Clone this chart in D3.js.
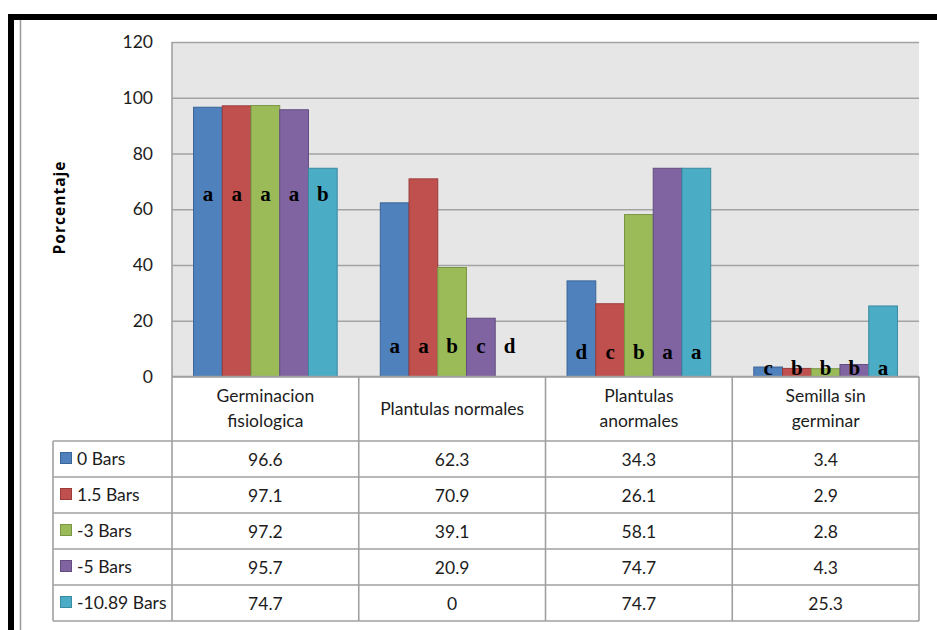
<!DOCTYPE html>
<html>
<head>
<meta charset="utf-8">
<script src="https://cdn.jsdelivr.net/npm/d3@7/dist/d3.min.js"></script>
<style>
  html, body { margin: 0; padding: 0; background: #fff; }
  svg { display: block; }
</style>
</head>
<body>
<svg id="chart" width="937" height="630"></svg>
<script>
// Categories shown along the x axis (two-line labels in the data table)
const categories = ["Germinacion fisiologica", "Plantulas normales", "Plantulas anormales", "Semilla sin germinar"];
const categoryLines = [["Germinacion", "fisiologica"], ["Plantulas normales"], ["Plantulas", "anormales"], ["Semilla sin", "germinar"]];

// Treatments (series)
const series = ["0 Bars", "1.5 Bars", "-3 Bars", "-5 Bars", "-10.89 Bars"];

// Percent values per treatment, one per category
const bars0 = [96.6, 62.3, 34.3, 3.4];
const bars15 = [97.1, 70.9, 26.1, 2.9];
const barsM3 = [97.2, 39.1, 58.1, 2.8];
const barsM5 = [95.7, 20.9, 74.7, 4.3];
const barsM1089 = [74.7, 0, 74.7, 25.3];
const values = [bars0, bars15, barsM3, barsM5, barsM1089];

// Significance letters (per category, per treatment)
const letters = [
  ["a", "a", "a", "a", "b"],
  ["a", "a", "b", "c", "d"],
  ["d", "c", "b", "a", "a"],
  ["c", "b", "b", "b", "a"]
];

// Y axis ticks
const yTicks = [0, 20, 40, 60, 80, 100, 120];

const colors = ["#4F81BD", "#C0504D", "#9BBB59", "#8064A2", "#4BACC6"];
const strokes = ["#3A6597", "#993C3A", "#7A9645", "#634D80", "#3A8AA0"];

const svg = d3.select("#chart");
const sansFont = "Lato, 'Open Sans', sans-serif";
const textColor = "#1c1c1c";

// Plot geometry
const plotLeft = 172, plotRight = 919, plotTop = 42, plotBottom = 376.5;
const headerBottom = 441, rowH = 36, legendLeft = 53;

const x0 = d3.scaleBand().domain(categories).range([plotLeft, plotRight]).padding(0);
const x1 = d3.scaleBand().domain(series).range([0, x0.bandwidth()]).paddingInner(0).paddingOuter(0.75);
const y = d3.scaleLinear().domain([0, 120]).range([plotBottom, plotTop]);

// Outer frame
svg.append("rect").attr("x", 8).attr("y", 14).attr("width", 929).attr("height", 6).attr("fill", "#000");
svg.append("rect").attr("x", 8).attr("y", 14).attr("width", 6).attr("height", 616).attr("fill", "#000");
svg.append("line").attr("x1", 20.5).attr("x2", 20.5).attr("y1", 20).attr("y2", 630)
  .attr("stroke", "#9a9a9a").attr("stroke-width", 1.5);

// Plot background
svg.append("rect").attr("x", plotLeft).attr("y", plotTop)
  .attr("width", plotRight - plotLeft).attr("height", plotBottom - plotTop)
  .attr("fill", "#E6E6E6");

// Gridlines and tick labels via d3 axis
const yAxis = d3.axisLeft(y).tickValues(yTicks).tickSize(-(plotRight - plotLeft)).tickPadding(19);
const gy = svg.append("g").attr("transform", `translate(${plotLeft},0)`).call(yAxis);
gy.select(".domain").remove();
gy.selectAll(".tick line").attr("stroke", "#A3A3A3").attr("stroke-width", 1.6);
gy.selectAll(".tick text").attr("font-family", sansFont).attr("font-size", 17.5).attr("fill", textColor);

// Y axis title
svg.append("text")
  .attr("transform", "translate(65,208) rotate(-90)")
  .attr("text-anchor", "middle")
  .attr("font-family", "'Open Sans', sans-serif").attr("font-weight", "bold").attr("font-size", 15.5)
  .attr("textLength", 93).attr("lengthAdjust", "spacing")
  .attr("fill", "#000")
  .text("Porcentaje");

// Bars
const groups = svg.append("g").selectAll("g")
  .data(categories)
  .join("g")
  .attr("transform", d => `translate(${x0(d)},0)`);

groups.selectAll("rect")
  .data((c, ci) => series.map((s, si) => ({ s, si, v: values[si][ci] })))
  .join("rect")
  .attr("x", d => x1(d.s))
  .attr("width", x1.bandwidth())
  .attr("y", d => y(d.v))
  .attr("height", d => y(0) - y(d.v))
  .attr("fill", d => colors[d.si])
  .attr("stroke", d => d.v > 0 ? strokes[d.si] : "none")
  .attr("stroke-width", 1);

// Significance letters (vertical level per category, in data units)
const letterLevel = [65.5, 11, 9, 3];
groups.selectAll("text.sig")
  .data((c, ci) => series.map((s, si) => ({ s, t: letters[ci][si], lv: letterLevel[ci] })))
  .join("text")
  .attr("class", "sig")
  .attr("x", d => x1(d.s) + x1.bandwidth() / 2)
  .attr("y", d => y(d.lv))
  .attr("dy", "0.35em")
  .attr("text-anchor", "middle")
  .attr("font-family", "'Liberation Serif', 'Times New Roman', serif")
  .attr("font-weight", "bold")
  .attr("font-size", 21)
  .attr("fill", "#000")
  .text(d => d.t);

// Data table
const gridColor = "#A0A0A0";
const tbl = svg.append("g");
const tableBottom = headerBottom + rowH * series.length;

// Header cell text
categories.forEach((c, ci) => {
  const lines = categoryLines[ci];
  const cx = x0(c) + x0.bandwidth() / 2;
  const mid = (plotBottom + headerBottom) / 2;
  lines.forEach((ln, li) => {
    tbl.append("text")
      .attr("x", cx)
      .attr("y", mid + (li - (lines.length - 1) / 2) * 25)
      .attr("dy", "0.35em")
      .attr("text-anchor", "middle")
      .attr("font-family", sansFont).attr("font-size", 17.5).attr("fill", textColor)
      .text(ln);
  });
});

// Rows: legend key + values
series.forEach((s, si) => {
  const top = headerBottom + si * rowH;
  const cy = top + rowH / 2;
  tbl.append("rect")
    .attr("x", 60.5).attr("y", cy - 6.5).attr("width", 11).attr("height", 11)
    .attr("fill", colors[si]).attr("stroke", strokes[si]).attr("stroke-width", 1);
  tbl.append("text")
    .attr("x", 77).attr("y", cy).attr("dy", "0.35em")
    .attr("font-family", sansFont).attr("font-size", 17.5).attr("fill", textColor)
    .text(s);
  categories.forEach((c, ci) => {
    tbl.append("text")
      .attr("x", x0(c) + x0.bandwidth() / 2).attr("y", cy + 1).attr("dy", "0.35em")
      .attr("text-anchor", "middle")
      .attr("font-family", sansFont).attr("font-size", 17.5).attr("fill", textColor)
      .text(values[si][ci]);
  });
});

// Table grid lines
const hLine = (yy, xa, xb) => tbl.append("line").attr("x1", xa).attr("x2", xb).attr("y1", yy).attr("y2", yy)
  .attr("stroke", gridColor).attr("stroke-width", 1.6);
const vLine = (xx, ya, yb) => tbl.append("line").attr("x1", xx).attr("x2", xx).attr("y1", ya).attr("y2", yb)
  .attr("stroke", gridColor).attr("stroke-width", 1.6);

hLine(plotBottom, plotLeft, plotRight);
for (let r = 0; r <= series.length; r++) hLine(headerBottom + r * rowH, legendLeft, plotRight);
vLine(legendLeft, headerBottom, tableBottom);
vLine(plotLeft, plotTop, tableBottom);
categories.forEach(c => vLine(x0(c) + x0.bandwidth(), plotBottom, tableBottom));
</script>
</body>
</html>
